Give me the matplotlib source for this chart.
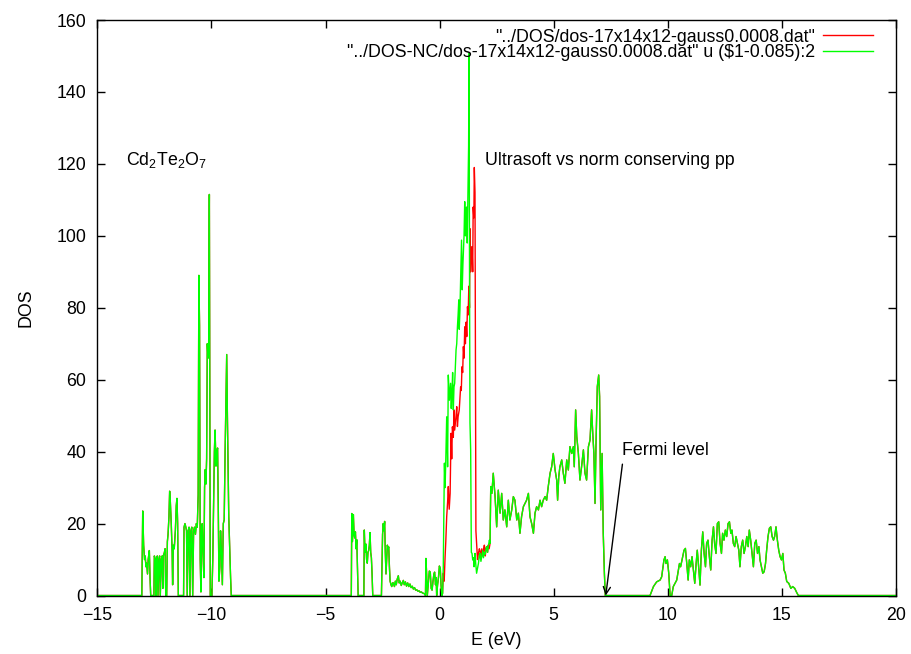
import numpy as np
import matplotlib
matplotlib.use('Agg')
import matplotlib.pyplot as plt

plt.rcParams['font.family'] = ['Liberation Sans', 'DejaVu Sans']
plt.rcParams['mathtext.fontset'] = 'custom'
plt.rcParams['mathtext.rm'] = 'Liberation Sans'
plt.rcParams['mathtext.it'] = 'Liberation Sans'

# Cd2Te2O7 density of states (E in eV, DOS in states/eV)
# deep valence (Te/Cd) block
deep_e = [-15.0, -13.15, -13.05, -13.01, -12.97, -12.93, -12.90, -12.87, -12.84, -12.80,
          -12.77, -12.72, -12.69, -12.66, -12.58, -12.52, -12.50, -12.46, -12.43, -12.40,
          -12.37, -12.34, -12.30, -12.27, -12.24, -12.20, -12.16, -12.13, -12.11, -12.06,
          -12.03, -12.00, -11.96, -11.93, -11.90, -11.86, -11.83, -11.80, -11.76, -11.72,
          -11.70, -11.67, -11.63, -11.58, -11.54, -11.51, -11.48, -11.45, -11.22, -11.20,
          -11.16, -11.12, -11.09, -11.06, -11.02, -10.98, -10.94, -10.90, -10.86, -10.82,
          -10.78, -10.74, -10.70, -10.66, -10.62, -10.58, -10.55, -10.52, -10.49, -10.46,
          -10.43, -10.40, -10.37, -10.33, -10.30, -10.27, -10.24, -10.21, -10.18, -10.15,
          -10.12, -10.09, -10.07, -10.05, -9.98, -9.94, -9.90, -9.87, -9.84, -9.80,
          -9.76, -9.73, -9.70, -9.67, -9.63, -9.60, -9.56, -9.52, -9.48, -9.44,
          -9.40, -9.36, -9.33, -9.30, -9.27, -9.24, -9.20, -9.16, -9.13]
deep_dos = [0, 0, 0, 23.5, 14, 10, 11, 8, 9, 6,
            10, 12.5, 5, 0, 0, 0, 11, 10, 0, 10.5,
            11, 0, 10, 11, 0, 10, 11, 2, 11, 12,
            13, 0, 0, 15, 17, 22, 29, 26, 20, 12,
            3, 14, 13, 18, 25, 27, 20, 0, 0, 19,
            20, 19, 18, 0, 18, 19, 0, 18, 19, 0,
            18, 19, 17, 20, 19, 28, 89, 75, 10, 1,
            18, 20, 12, 5, 30, 35, 31, 38, 70, 66,
            70, 111.5, 60, 0, 0, 10, 27, 40, 46, 36,
            40, 41, 25, 4, 8, 18, 12, 3, 20, 21,
            40, 55, 67, 50, 36, 22, 13, 5, 0]

# semicore block from -4 to 0 eV
semi_e = [-3.87, -3.85, -3.82, -3.78, -3.75, -3.72, -3.69, -3.66, -3.63, -3.60,
          -3.57, -3.32, -3.30, -3.27, -3.23, -3.20, -3.17, -3.14, -3.11, -3.08,
          -3.05, -3.02, -2.99, -2.96, -2.93, -2.55, -2.50, -2.47, -2.44, -2.41,
          -2.38, -2.35, -2.32, -2.29, -2.26, -2.23, -2.20, -2.17, -2.13, -2.10,
          -2.06, -2.03, -1.98, -1.94, -1.90, -1.86, -1.81, -1.77, -1.73, -1.68,
          -1.64, -1.59, -1.55, -1.50, -1.45, -1.40, -1.35, -1.30, -1.25, -1.20,
          -1.15, -1.10, -1.05, -1.00, -0.95, -0.90, -0.85, -0.80, -0.75, -0.70,
          -0.65, -0.62, -0.60, -0.57, -0.54, -0.50, -0.45, -0.41, -0.37, -0.33,
          -0.29, -0.25, -0.22, -0.18, -0.15, -0.13, -0.09, -0.05, -0.01, 0.03,
          0.06, 0.10]
semi_dos = [0, 22.8, 15, 22.5, 17, 16, 17.7, 13, 15.5, 8,
            0, 0, 18.2, 12, 14.3, 10, 9, 12, 12.5, 14,
            17.5, 12, 10.5, 6, 0, 0, 17, 20, 18, 20.6,
            12, 6, 10, 14, 13, 13.5, 8, 4, 3, 2.5,
            3.5, 3.5, 2.5, 4, 3, 4.5, 5.5, 3.5, 4, 2.8,
            3.5, 4.2, 3, 3.8, 2.6, 3.5, 2.5, 3.2, 2.2, 2.6,
            1.8, 2.2, 1.5, 1.6, 1.2, 1.3, 0.9, 1.0, 0.7, 0.6,
            0.4, 0, 10.3, 6, 0, 3, 6.8, 6.5, 2, 1.5,
            4, 6, 6.5, 3, 5, 0, 3, 5, 8.2, 7.5,
            3, 0]

# main peak, ultrasoft run (red)
us_peak_e = [0.13, 0.16, 0.20, 0.24, 0.27, 0.31, 0.35, 0.38, 0.42, 0.46,
             0.50, 0.53, 0.56, 0.60, 0.63, 0.66, 0.69, 0.72, 0.75, 0.78,
             0.81, 0.86, 0.89, 0.92, 0.95, 0.98, 1.01, 1.04, 1.07, 1.10,
             1.13, 1.16, 1.19, 1.22, 1.25, 1.28, 1.31, 1.33, 1.36, 1.38,
             1.42, 1.45, 1.47, 1.50, 1.52, 1.55, 1.57, 1.59, 1.62, 1.66,
             1.70, 1.74, 1.77, 1.81, 1.85, 1.89, 1.92, 1.96, 2.00, 2.03,
             2.06, 2.10, 2.13, 2.17, 2.21]
us_peak_dos = [0.6, 6.2, 4, 10.8, 15, 21.9, 26, 30.3, 24, 28.4,
               45.1, 38, 46.9, 44, 51.6, 46, 47.9, 50, 52.5, 47,
               49.7, 51.6, 55, 58, 57, 63.6, 62, 69.2, 66, 74.7,
               70, 76, 72, 80.3, 78, 86, 80, 102, 90, 95,
               97, 90, 108, 105, 119, 112, 60, 18, 14.5, 10,
               11.7, 13, 12.5, 10.5, 13, 11, 12.5, 14, 11, 13,
               13.6, 12, 14, 13, 14.5]

# main peak, norm conserving run (green)
nc_peak_e = [0.13, 0.16, 0.19, 0.21, 0.24, 0.27, 0.31, 0.35, 0.38, 0.43,
             0.48, 0.51, 0.54, 0.57, 0.60, 0.63, 0.66, 0.69, 0.72, 0.75,
             0.78, 0.81, 0.84, 0.86, 0.89, 0.93, 0.96, 0.99, 1.02, 1.04,
             1.07, 1.10, 1.13, 1.15, 1.18, 1.21, 1.24, 1.27, 1.29, 1.31,
             1.33, 1.36, 1.39, 1.42, 1.45, 1.48, 1.51, 1.55, 1.58, 1.62,
             1.66, 1.70, 1.74, 1.77, 1.81, 1.85, 1.89, 1.92, 1.96, 2.00,
             2.03, 2.06, 2.10, 2.13, 2.18, 2.21]
nc_peak_dos = [0.6, 8, 25, 36.8, 30, 37.7, 49.7, 35.8, 61.3, 54.3,
               59, 52, 56.2, 62, 51.6, 58, 59, 64, 68.3, 70,
               74.7, 78, 82.2, 74, 79.4, 90, 98.8, 85, 92, 95,
               100, 109.5, 100, 104.4, 108, 98, 112, 125, 150.7, 90,
               48, 40.5, 12, 11.7, 9.9, 10.5, 8, 11.7, 9, 6.2,
               7.5, 8.9, 11, 11.7, 9.5, 11, 12.5, 10.5, 12, 11.5,
               13, 13.6, 12, 13.5, 15.4, 14.5]

# upper valence band up to the Fermi level
upper_e = [2.24, 2.29, 2.35, 2.43, 2.50, 2.57, 2.65, 2.72, 2.79, 2.86,
           2.94, 3.01, 3.08, 3.16, 3.23, 3.30, 3.38, 3.45, 3.52, 3.59,
           3.67, 3.74, 3.81, 3.89, 3.96, 4.03, 4.11, 4.18, 4.25, 4.33,
           4.40, 4.47, 4.54, 4.62, 4.69, 4.76, 4.84, 4.91, 4.98, 5.06,
           5.13, 5.17, 5.22, 5.27, 5.35, 5.42, 5.49, 5.57, 5.64, 5.71,
           5.79, 5.86, 5.90, 5.96, 6.01, 6.08, 6.15, 6.22, 6.30, 6.37,
           6.44, 6.52, 6.59, 6.66, 6.71, 6.76, 6.81, 6.85, 6.91, 6.97,
           7.01, 7.06, 7.12, 7.14, 7.17, 7.22, 7.26]
upper_dos = [30.3, 28.4, 34.0, 27.5, 19.1, 29.3, 22.9, 28.4, 21.0, 23.8,
             19.1, 26.5, 21.0, 23.8, 27.5, 26.5, 21.0, 22.9, 17.3, 21.9,
             24.7, 25.6, 26.5, 28.4, 21.9, 20.1, 17.3, 22.9, 24.7, 23.8,
             26.5, 24.7, 26.5, 27.5, 26.5, 30.3, 34.0, 35.8, 39.5, 34.9,
             32.1, 26.5, 33.0, 35.8, 37.7, 34.0, 31.2, 37.7, 34.9, 41.4,
             39.5, 41.4, 35.8, 51.6, 44.2, 39.5, 32.1, 35.8, 40.5, 34.0,
             32.1, 41.4, 43.2, 51.6, 45.1, 39.5, 25.6, 41.4, 58.1, 61.3,
             55.3, 23.8, 39.5, 30.3, 17.3, 6.2, 0]

# conduction band
cond_e = [9.22, 9.37, 9.51, 9.66, 9.73, 9.83, 9.88, 9.92, 9.98, 10.04,
          10.10, 10.17, 10.24, 10.39, 10.51, 10.56, 10.65, 10.71, 10.77, 10.83,
          10.89, 10.94, 11.00, 11.06, 11.12, 11.18, 11.24, 11.29, 11.35, 11.41,
          11.47, 11.53, 11.59, 11.65, 11.70, 11.76, 11.82, 11.88, 11.94, 12.00,
          12.05, 12.11, 12.17, 12.23, 12.29, 12.35, 12.40, 12.46, 12.52, 12.58,
          12.64, 12.70, 12.76, 12.81, 12.87, 12.93, 12.99, 13.05, 13.11, 13.16,
          13.22, 13.28, 13.34, 13.40, 13.46, 13.52, 13.57, 13.63, 13.69, 13.75,
          13.81, 13.87, 13.93, 13.99, 14.04, 14.10, 14.16, 14.22, 14.28, 14.33,
          14.39, 14.45, 14.51, 14.57, 14.63, 14.68, 14.74, 14.80, 14.86, 14.92,
          14.98, 15.04, 15.09, 15.15, 15.21, 15.30, 15.39, 15.47, 15.56, 15.65,
          15.72, 20.0]
cond_dos = [0, 2.5, 3.8, 4.3, 5.2, 9.9, 10.8, 8.9, 9.9, 6.2,
            0, 0, 2.5, 4.3, 8.9, 8.0, 10.8, 12.6, 13.1, 8.9,
            4.3, 9.9, 8.0, 10.8, 7.1, 3.4, 8.9, 12.6, 8.0, 2.9,
            12.6, 17.7, 11.7, 8.0, 14.5, 15.4, 10.8, 7.1, 15.4, 19.1,
            14.5, 11.7, 20.0, 20.5, 14.5, 11.7, 17.3, 15.4, 18.2, 16.4,
            20.0, 20.5, 17.3, 18.2, 14.5, 13.6, 16.4, 14.5, 12.6, 8.0,
            13.6, 15.4, 11.7, 13.6, 16.4, 13.6, 18.2, 15.4, 11.7, 8.0,
            14.5, 15.4, 11.7, 13.6, 9.9, 8.0, 6.2, 6.6, 8.9, 12.6,
            16.4, 18.7, 19.1, 16.4, 15.4, 16.4, 19.1, 15.4, 12.6, 10.8,
            9.9, 11.7, 7.1, 6.2, 3.9, 3.4, 2.0, 2.5, 2.0, 0.8,
            0, 0]

label_us = '"../DOS/dos-17x14x12-gauss0.0008.dat"'
label_nc = '"../DOS-NC/dos-17x14x12-gauss0.0008.dat" u (\\$1-0.085):2'

us_e = deep_e + semi_e + us_peak_e + upper_e + cond_e
us_dos = deep_dos + semi_dos + us_peak_dos + upper_dos + cond_dos
nc_e = deep_e + semi_e + nc_peak_e + upper_e + cond_e
nc_dos = deep_dos + semi_dos + nc_peak_dos + upper_dos + cond_dos

FS = 12.8

fig = plt.figure(figsize=(9.12, 6.54), dpi=100)
ax = fig.add_axes([0.1067, 0.0894, 0.8758, 0.88])

ax.plot(us_e, us_dos, color='#ff0000', lw=1.0, label=label_us)
ax.plot(nc_e, nc_dos, color='#00ff00', lw=1.0, label=label_nc)

ax.set_xlim(-15, 20)
ax.set_ylim(0, 160)
ax.set_xticks(np.arange(-15, 21, 5))
ax.set_yticks(np.arange(0, 161, 20))
ax.tick_params(direction='in', top=True, right=True, length=6, width=1,
               labelsize=FS, pad=8)
for s in ax.spines.values():
    s.set_linewidth(1.0)

ax.set_xlabel('E (eV)', fontsize=FS, labelpad=6)
ax.set_ylabel('DOS', fontsize=FS, labelpad=16)

ax.text(-13.74, 121, 'Cd$_2$Te$_2$O$_7$', fontsize=FS, va='center', ha='left')
ax.text(2.0, 121, 'Ultrasoft vs norm conserving pp', fontsize=FS, va='center', ha='left')
ax.annotate('Fermi level', xy=(7.28, 0), xytext=(8.01, 40.3), fontsize=FS,
            va='center', ha='left',
            arrowprops=dict(arrowstyle='->', color='black', lw=1.0,
                            shrinkA=0, shrinkB=0, relpos=(0.0, -0.3)))

ax.legend(loc='upper right', bbox_to_anchor=(0.971, 0.985), frameon=False,
          fontsize=FS, markerfirst=False, handlelength=2.8, handletextpad=0.45,
          borderpad=0, borderaxespad=0, labelspacing=-0.1)

fig.savefig('out.png', dpi=100)
